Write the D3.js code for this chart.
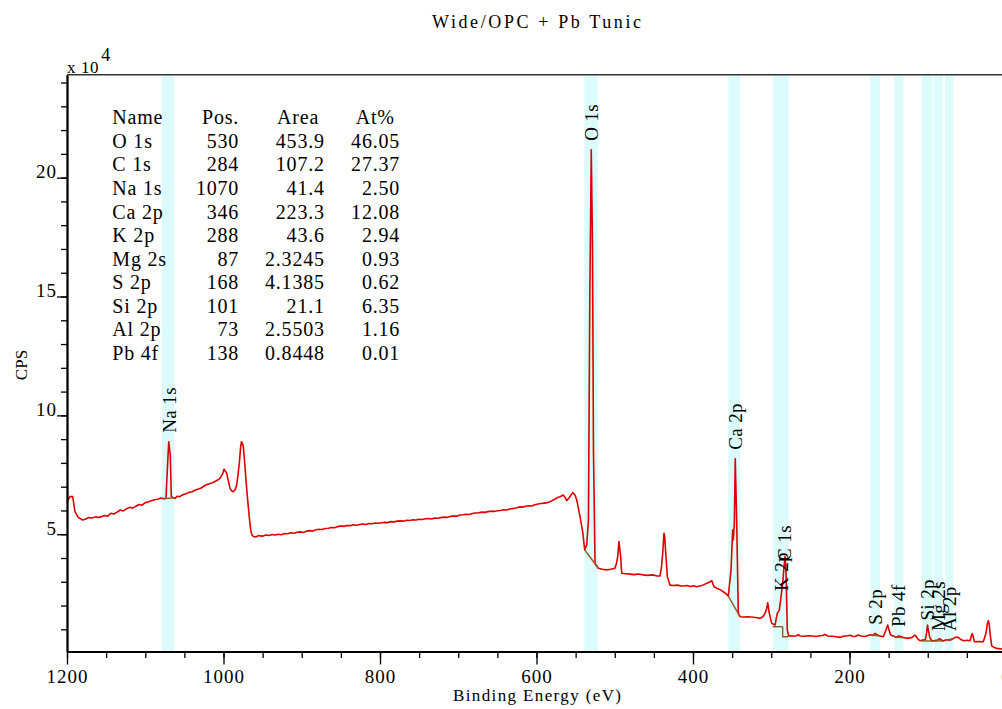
<!DOCTYPE html>
<html>
<head>
<meta charset="utf-8">
<script src="https://cdn.jsdelivr.net/npm/d3@7"></script>
<style>
  body { margin: 0; background: #fff; overflow: hidden; }
  svg { display: block; }
  text { font-family: "Liberation Serif", "Times New Roman", serif; fill: #000; }
</style>
</head>
<body>
<svg id="chart" width="1002" height="709"></svg>
<script>
// Wide survey spectrum: binding energy (eV) and counts per second in units of 10^4
const energyEV = [
  1200, 1196.2, 1192.7, 1189.8, 1185.6, 1180, 1176, 1172, 1168, 1164,
  1160, 1156, 1152, 1148, 1144, 1140, 1136, 1132, 1128, 1124,
  1120, 1116, 1112, 1108, 1104, 1100, 1096, 1092, 1088, 1084,
  1080, 1076, 1073.5, 1071.8, 1070, 1068, 1066.7, 1064, 1062, 1059,
  1056, 1052, 1048, 1044, 1040, 1036, 1032, 1028, 1024, 1020,
  1016, 1012, 1008, 1004.5, 1001, 999.4, 997.5, 995.9, 993.5, 991.7,
  989.5, 987.5, 985, 983.1, 981.5, 979.8, 978.3, 977.2, 976, 974.7,
  973, 971.3, 969.8, 968.3, 966.7, 965.2, 963.9, 962.7, 960, 957.6,
  955, 953.4, 950, 946, 942, 938, 934, 930, 926, 922,
  918, 914, 910, 906, 902, 898, 894, 890, 886, 882,
  878, 874, 870, 866, 862, 858, 854, 850, 846, 842,
  838, 834, 830, 826, 822, 818, 814, 810, 806, 802,
  798, 794, 790, 786, 782, 778, 774, 770, 766, 762,
  758, 754, 750, 746, 742, 738, 734, 730, 726, 722,
  718, 714, 710, 706, 702, 698, 694, 690, 686, 682,
  678, 674, 670, 666, 662, 658, 654, 650, 646, 642,
  638, 634, 630, 626, 622, 618, 614, 610, 606, 602,
  598, 594, 590, 586, 582.7, 578, 573.8, 570, 565.8, 563.5,
  561.4, 558, 553.7, 551, 548.6, 546.5, 544.4, 541, 538.4, 535.8,
  533.6, 531.9, 530, 528.4, 527.2, 525.2, 521, 516, 510.3, 505,
  499.7, 498, 496.2, 494.6, 492.4, 491.1, 486, 480.5, 475, 470,
  463.5, 458, 452, 447, 442.2, 440.3, 438.7, 437.1, 436.2, 435.4,
  432.8, 429.4, 425, 420, 415, 412.4, 408, 403, 399, 395.3,
  390, 386, 382.5, 379, 376.1, 373.2, 369, 365, 361.3, 358,
  354.9, 351.4, 349.3, 348.5, 347.2, 346, 344.2, 342.1, 339.9, 335,
  330, 322.9, 318, 314.4, 311, 308, 306, 304.5, 302.5, 299.4,
  295.2, 292.3, 289.7, 288, 285.4, 284, 282.4, 281.2, 279.5, 277.7,
  275, 271, 267.5, 265.4, 263.3, 258, 253, 247.9, 243, 238,
  234, 231.3, 229, 227.5, 222, 217, 212.1, 208, 203, 199.4,
  196, 193, 188.8, 185, 180.2, 176, 173.8, 170, 167.4, 164,
  161, 156.8, 153.4, 151.2, 149.1, 147.4, 144, 139.7, 138, 135.5,
  131, 126.9, 123, 120.1, 116.3, 112.5, 109.9, 106, 103, 101.5,
  100.3, 99, 97.5, 95, 92.9, 89.5, 87, 85.2, 82.5, 80.1,
  76.5, 73, 71.6, 68, 65.2, 61, 58, 54.6, 50, 46,
  44.3, 43.1, 41.5, 40.5, 35, 29, 25.6, 23.9, 22.6, 21.3,
  20.4, 18.3, 14, 11.9, 5.1, 0
];
const countsE4 = [
  6.37, 6.58, 6.58, 5.95, 5.71, 5.60, 5.64, 5.70, 5.68, 5.73,
  5.70, 5.74, 5.79, 5.76, 5.88, 5.85, 5.93, 6.02, 5.98, 6.07,
  6.13, 6.10, 6.18, 6.25, 6.22, 6.33, 6.37, 6.41, 6.45, 6.47,
  6.52, 6.49, 6.51, 7.70, 8.89, 8.33, 6.58, 6.53, 6.51, 6.60,
  6.58, 6.66, 6.70, 6.76, 6.79, 6.86, 6.90, 6.95, 7.05, 7.10,
  7.14, 7.20, 7.27, 7.35, 7.55, 7.73, 7.65, 7.56, 7.20, 6.93,
  6.82, 6.79, 6.88, 7.07, 7.50, 7.98, 8.60, 8.89, 8.85, 8.68,
  8.05, 7.28, 6.70, 6.16, 5.60, 5.18, 4.98, 4.93, 4.88, 4.90,
  4.95, 4.93, 4.92, 4.97, 4.95, 4.99, 4.97, 5.00, 4.98, 5.03,
  5.02, 5.06, 5.04, 5.08, 5.10, 5.07, 5.13, 5.15, 5.13, 5.19,
  5.21, 5.20, 5.24, 5.25, 5.28, 5.27, 5.32, 5.35, 5.33, 5.37,
  5.36, 5.40, 5.38, 5.41, 5.43, 5.41, 5.45, 5.44, 5.47, 5.46,
  5.48, 5.50, 5.49, 5.53, 5.52, 5.55, 5.56, 5.55, 5.59, 5.58,
  5.61, 5.60, 5.63, 5.62, 5.65, 5.66, 5.64, 5.68, 5.67, 5.70,
  5.72, 5.71, 5.75, 5.77, 5.76, 5.81, 5.82, 5.84, 5.83, 5.87,
  5.89, 5.90, 5.93, 5.92, 5.95, 5.97, 5.96, 5.99, 6.00, 6.03,
  6.02, 6.06, 6.08, 6.10, 6.15, 6.14, 6.18, 6.20, 6.19, 6.24,
  6.27, 6.29, 6.31, 6.33, 6.37, 6.45, 6.53, 6.58, 6.65, 6.55,
  6.41, 6.55, 6.75, 6.66, 6.44, 6.10, 5.74, 5.11, 4.34, 4.55,
  5.60, 14.86, 21.17, 16.96, 8.54, 3.78, 3.57, 3.53, 3.50, 3.53,
  3.57, 3.75, 4.06, 4.69, 4.06, 3.36, 3.34, 3.32, 3.30, 3.33,
  3.29, 3.27, 3.29, 3.25, 3.24, 3.60, 4.20, 5.04, 4.90, 4.48,
  3.21, 2.86, 2.84, 2.86, 2.82, 2.82, 2.84, 2.80, 2.83, 2.79,
  2.83, 2.88, 2.94, 2.98, 3.05, 2.79, 2.72, 2.66, 2.58, 2.50,
  2.40, 3.50, 5.18, 4.76, 5.47, 8.17, 5.60, 1.67, 1.53, 1.52,
  1.53, 1.51, 1.49, 1.46, 1.52, 1.67, 1.85, 2.12, 1.67, 1.25,
  1.18, 1.67, 1.81, 2.23, 2.94, 3.50, 4.06, 3.50, 0.97, 0.72,
  0.73, 0.71, 0.73, 0.78, 0.72, 0.71, 0.73, 0.72, 0.70, 0.73,
  0.74, 0.79, 0.74, 0.72, 0.71, 0.69, 0.66, 0.71, 0.73, 0.75,
  0.71, 0.70, 0.76, 0.72, 0.70, 0.74, 0.77, 0.74, 0.83, 0.76,
  0.72, 0.69, 0.97, 1.18, 0.93, 0.76, 0.72, 0.66, 0.72, 0.71,
  0.66, 0.62, 0.64, 0.66, 0.76, 0.59, 0.52, 0.55, 0.57, 0.85,
  1.18, 0.93, 0.66, 0.53, 0.51, 0.54, 0.55, 0.61, 0.55, 0.51,
  0.56, 0.55, 0.54, 0.60, 0.66, 0.66, 0.58, 0.52, 0.54, 0.52,
  0.72, 0.82, 0.64, 0.48, 0.49, 0.48, 0.83, 1.22, 1.36, 1.18,
  0.83, 0.30, 0.22, 0.20, 0.17, 0.17
];

// Quantification table
const peakNames = ["O 1s", "C 1s", "Na 1s", "Ca 2p", "K 2p", "Mg 2s", "S 2p", "Si 2p", "Al 2p", "Pb 4f"];
const peakPos = [530, 284, 1070, 346, 288, 87, 168, 101, 73, 138];
const peakArea = ["453.9", "107.2", "41.4", "223.3", "43.6", "2.3245", "4.1385", "21.1", "2.5503", "0.8448"];
const peakAtPct = ["46.05", "27.37", "2.50", "12.08", "2.94", "0.93", "0.62", "6.35", "1.16", "0.01"];
const tableHeader = ["Name", "Pos.", "Area", "At%"];

// Integration regions (eV, high to low), same order as the table
const regionFrom = [538.9, 290.0, 1078.6, 354.9, 298.1, 92.0, 173.8, 107.7, 78.0, 143.1];
const regionTo   = [521.8, 277.7, 1063.3, 339.9, 285.0, 80.9, 161.0, 93.7, 67.3, 131.2];

// Background lines under each region
const bgEnergy = [[538.4, 521.0], [285.4, 285.4, 278.2], [1077, 1064], [354.9, 339.9], [298.1, 285.4],
                  [92.0, 80.9], [173.8, 161.0], [107.7, 93.7], [78.0, 67.3], [143.1, 131.2]];
const bgCountsE4 = [[4.34, 3.57], [1.11, 0.69, 0.69], [6.49, 6.53], [2.40, 1.53], [1.11, 1.11],
                    [0.51, 0.51], [0.77, 0.72], [0.51, 0.51], [0.55, 0.60], [0.70, 0.64]];

const xMajorTicks = [1200, 1000, 800, 600, 400, 200, 0];
const yMajorTicks = [5, 10, 15, 20];

const svg = d3.select("#chart");
const plotLeft = 67, plotRight = 1006, plotTop = 74.7, plotBottom = 651.5;
const x = d3.scaleLinear().domain([1200, 0]).range([plotLeft, plotRight]);
const y = d3.scaleLinear().domain([0.067, 24.33]).range([plotBottom, plotTop]);

// shaded integration regions
svg.append("g").selectAll("rect").data(peakNames).join("rect")
  .attr("x", (d, i) => x(regionFrom[i]))
  .attr("width", (d, i) => x(regionTo[i]) - x(regionFrom[i]))
  .attr("y", plotTop).attr("height", plotBottom - plotTop)
  .attr("fill", "#dcfcfc");

// spectrum
const spectrum = energyEV.map((e, i) => [e, countsE4[i]]);
const line = d3.line().x(d => x(d[0])).y(d => y(d[1]));
svg.append("path").datum(spectrum)
  .attr("d", line).attr("fill", "none")
  .attr("stroke", "#dd0000").attr("stroke-width", 1.6).attr("stroke-linejoin", "round");

// backgrounds
svg.append("g").selectAll("path").data(bgEnergy).join("path")
  .attr("d", (d, i) => line(d.map((e, k) => [e, bgCountsE4[i][k]])))
  .attr("fill", "none").attr("stroke", "#8a5a18").attr("stroke-width", 1.4);

// spectrum value at a binding energy
function countsAt(e) {
  for (let i = 0; i < energyEV.length - 1; i++) {
    const a = energyEV[i], b = energyEV[i + 1];
    if (e <= a && e >= b) {
      const t = (a - e) / (a - b);
      return countsE4[i] + t * (countsE4[i + 1] - countsE4[i]);
    }
  }
  return 0;
}

// peak labels
svg.append("g").selectAll("text").data(peakNames).join("text")
  .attr("transform", (d, i) => `translate(${x(peakPos[i]) + 7},${y(countsAt(peakPos[i])) - 9}) rotate(-90)`)
  .attr("font-size", 19).attr("letter-spacing", 0.4)
  .text(d => d);

// axes
const xAxisG = svg.append("g").attr("transform", `translate(0,${plotBottom})`);
xAxisG.call(d3.axisBottom(x).tickValues(d3.range(1200, -1, -50)).tickSize(6.5).tickFormat("").tickSizeOuter(0));
xAxisG.append("g").call(d3.axisBottom(x).tickValues(xMajorTicks).tickSize(13).tickPadding(5).tickFormat(d3.format("d")).tickSizeOuter(0));
xAxisG.selectAll(".domain").attr("stroke", "#000").attr("stroke-width", 1.8);
xAxisG.selectAll(".tick line").attr("stroke", "#000").attr("stroke-width", 1.3);
xAxisG.selectAll("text").attr("font-size", 19).attr("letter-spacing", 1)
  .attr("font-family", "Liberation Serif").attr("fill", "#000");

const yAxisG = svg.append("g").attr("transform", `translate(${plotLeft},0)`);
yAxisG.call(d3.axisLeft(y).tickValues(d3.range(1, 25)).tickSize(6).tickFormat("").tickSizeOuter(0));
yAxisG.append("g").call(d3.axisLeft(y).tickValues(yMajorTicks).tickSize(10).tickFormat(d3.format("d")).tickSizeOuter(0));
yAxisG.selectAll(".domain").attr("stroke", "#000").attr("stroke-width", 1.8);
yAxisG.selectAll(".tick line").attr("stroke", "#000").attr("stroke-width", 1.3);
yAxisG.selectAll("text").attr("font-size", 19).attr("letter-spacing", 1)
  .attr("font-family", "Liberation Serif").attr("fill", "#000")
  .attr("x", -10).attr("dy", 0);

// top frame
svg.append("line").attr("x1", plotLeft).attr("x2", plotRight).attr("y1", plotTop).attr("y2", plotTop)
  .attr("stroke", "#333").attr("stroke-width", 1.6);

// exponent
const expo = svg.append("text").attr("x", 67).attr("y", 73).attr("font-size", 17).attr("letter-spacing", 0.6);
expo.append("tspan").text("x 10");
expo.append("tspan").attr("dy", -12).attr("font-size", 18).attr("dx", 2).text("4");

// titles
svg.append("text").attr("x", 536.5).attr("y", 28).attr("text-anchor", "middle")
  .attr("font-size", 18).attr("textLength", 209).attr("lengthAdjust", "spacing")
  .text("Wide/OPC + Pb Tunic");
svg.append("text").attr("x", 537).attr("y", 701).attr("text-anchor", "middle")
  .attr("font-size", 17).attr("textLength", 168).attr("lengthAdjust", "spacing")
  .text("Binding Energy (eV)");
svg.append("text").attr("transform", "translate(27,365) rotate(-90)").attr("text-anchor", "middle")
  .attr("font-size", 17).text("CPS");

// quantification table
const table = svg.append("g").attr("font-size", 20).attr("letter-spacing", 0.8);
const rowY = i => 124.3 + 23.57 * i;
const colEnd = [null, 239.1, 324.8, 400.1];
const headEnd = [null, 239.1, 319.1, 394.8];
table.append("text").attr("x", 112.3).attr("y", rowY(0)).text(tableHeader[0]);
[1, 2, 3].forEach(c => table.append("text").attr("x", headEnd[c]).attr("y", rowY(0))
  .attr("text-anchor", "end").text(tableHeader[c]));
peakNames.forEach((n, i) => {
  const r = rowY(i + 1);
  table.append("text").attr("x", 112.3).attr("y", r).text(n);
  table.append("text").attr("x", colEnd[1]).attr("y", r).attr("text-anchor", "end").text(peakPos[i]);
  table.append("text").attr("x", colEnd[2]).attr("y", r).attr("text-anchor", "end").text(peakArea[i]);
  table.append("text").attr("x", colEnd[3]).attr("y", r).attr("text-anchor", "end").text(peakAtPct[i]);
});
</script>
</body>
</html>
